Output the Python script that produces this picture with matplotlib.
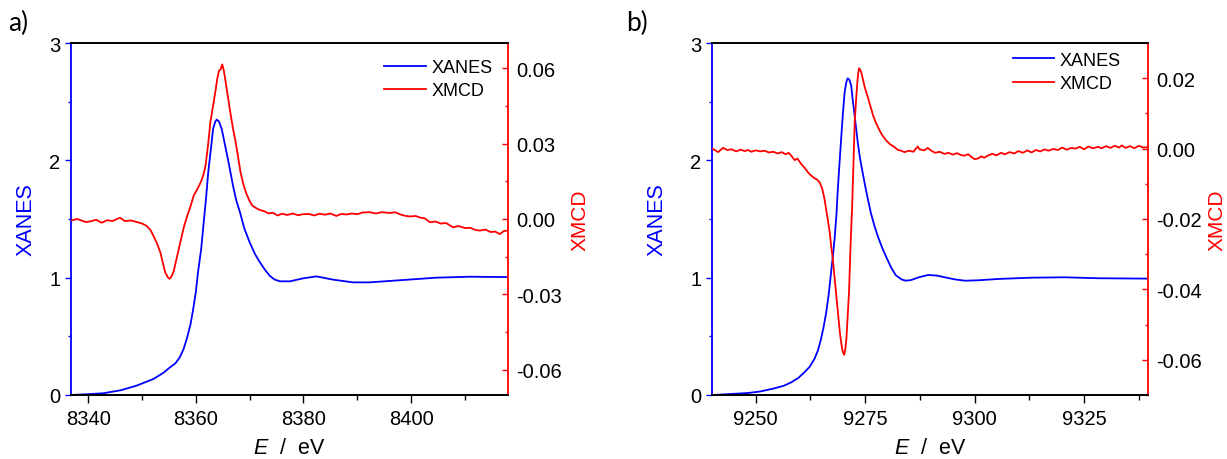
import matplotlib
matplotlib.use("Agg")
import matplotlib.pyplot as plt
from matplotlib.ticker import MultipleLocator, FormatStrFormatter

plt.rcParams['font.family'] = ['Liberation Sans', 'DejaVu Sans']
plt.rcParams['mathtext.fontset'] = 'custom'
plt.rcParams['mathtext.it'] = 'Liberation Sans:italic'
plt.rcParams['mathtext.rm'] = 'Liberation Sans'
plt.rcParams['axes.unicode_minus'] = False

# ---- panel a) data (read off the picture) ----
xanes_a_e = [8336.6, 8340, 8342.8, 8346, 8349.0, 8352.1, 8354, 8355.2, 8356.2, 8357.0,
             8357.7, 8358.3, 8359.0, 8359.5, 8360.0, 8360.4, 8361.0, 8361.4, 8361.9, 8362.3,
             8362.8, 8363.2, 8363.6, 8363.9, 8364.3, 8364.8, 8365.2, 8365.7, 8366.3, 8366.9,
             8367.5, 8368.2, 8369.0, 8370.0, 8371.0, 8371.9, 8372.8, 8373.7, 8374.6, 8375.6,
             8377.5, 8379.9, 8382.4, 8385.5, 8389.2, 8392.3, 8398.5, 8404.7, 8410.9, 8418]
xanes_a = [0.0, 0.007, 0.015, 0.04, 0.08, 0.136, 0.19, 0.236, 0.27, 0.32,
           0.39, 0.477, 0.6, 0.73, 0.88, 1.045, 1.25, 1.443, 1.68, 1.898,
           2.1, 2.267, 2.33, 2.347, 2.33, 2.267, 2.18, 2.068, 1.93, 1.784,
           1.66, 1.557, 1.42, 1.301, 1.2, 1.131, 1.07, 1.017, 0.985, 0.969,
           0.969, 0.994, 1.011, 0.983, 0.960, 0.960, 0.98, 1.0, 1.008, 1.005]

xmcd_a_e = [8336.6, 8338, 8339.5, 8340.3, 8341.5, 8342.5, 8343.5, 8344.5, 8345.9, 8346.8,
            8348, 8349.0, 8350, 8350.9, 8351.6, 8352.1, 8352.8, 8353.4, 8354.3, 8354.8,
            8355.1, 8355.5, 8355.9, 8356.5, 8357.1, 8357.8, 8358.4, 8359.0, 8359.6, 8360.3,
            8360.9, 8361.4, 8361.8, 8362.3, 8362.7, 8363.2, 8363.7, 8364.0, 8364.3, 8364.6,
            8364.9, 8365.2, 8365.5, 8366.0, 8366.4, 8366.9, 8367.4, 8367.9, 8368.3, 8368.8,
            8369.3, 8369.9, 8370.5, 8371.3, 8372, 8372.7, 8373.5, 8374.3, 8375.2, 8376,
            8377, 8378, 8379, 8379.9, 8381, 8382, 8383, 8384, 8385, 8386.1,
            8387, 8388, 8389, 8390, 8391, 8392.3, 8393.5, 8394.5, 8396.1, 8397,
            8398, 8399, 8399.8, 8400.8, 8401.8, 8402.6, 8403.5, 8404.5, 8405.5, 8406.5,
            8407.8, 8408.8, 8410, 8411, 8412, 8412.8, 8413.8, 8414.8, 8415.6, 8416.5,
            8417.2, 8418]
xmcd_a = [-0.0007, 0.0000, -0.0012, -0.0010, -0.0003, -0.0015, -0.0005, -0.0008, 0.0005, -0.0008,
          -0.0006, -0.0012, -0.0018, -0.0028, -0.0045, -0.0066, -0.0098, -0.0133, -0.0212, -0.0232,
          -0.0238, -0.0228, -0.0206, -0.0150, -0.0093, -0.0030, 0.0013, 0.0050, 0.0093, 0.0120,
          0.0146, 0.0175, 0.0212, 0.0300, 0.0385, 0.0450, 0.0517, 0.0560, 0.0590, 0.0595,
          0.0615, 0.0590, 0.0550, 0.0480, 0.0424, 0.0360, 0.0305, 0.0240, 0.0186, 0.0140,
          0.0106, 0.0075, 0.0053, 0.0042, 0.0035, 0.0031, 0.0022, 0.0025, 0.0014, 0.0021,
          0.0016, 0.0022, 0.0015, 0.0019, 0.0020, 0.0014, 0.0021, 0.0017, 0.0022, 0.0012,
          0.0020, 0.0018, 0.0022, 0.0019, 0.0026, 0.0027, 0.0022, 0.0027, 0.0024, 0.0027,
          0.0018, 0.0012, 0.0010, 0.0012, 0.0005, 0.0002, -0.0013, -0.0010, -0.0018, -0.0016,
          -0.0033, -0.0028, -0.0036, -0.0035, -0.0044, -0.0046, -0.0042, -0.0052, -0.0050, -0.0060,
          -0.0048, -0.0046]

# ---- panel b) data ----
xanes_b_e = [9240.2, 9244, 9248.2, 9251, 9254.3, 9256.5, 9258.1, 9259.7, 9261.1, 9262.3,
             9263.4, 9264.2, 9264.9, 9265.5, 9266.1, 9266.7, 9267.2, 9267.6, 9268.0, 9268.4,
             9268.7, 9269.1, 9269.5, 9269.9, 9270.3, 9270.7, 9271.0, 9271.4, 9271.8, 9272.1,
             9272.5, 9272.9, 9273.3, 9273.8, 9274.4, 9275.0, 9275.6, 9276.3, 9277.1, 9278.0,
             9279.0, 9280.0, 9280.9, 9282, 9283.3, 9284.3, 9285.5, 9287.4, 9289.4, 9291.3,
             9293.2, 9295.5, 9297.8, 9301, 9305.4, 9313.0, 9320.6, 9328.3, 9339.3]
xanes_b = [0.0, 0.008, 0.017, 0.03, 0.057, 0.08, 0.108, 0.145, 0.193, 0.24,
           0.307, 0.38, 0.477, 0.58, 0.705, 0.87, 1.045, 1.18, 1.33, 1.52,
           1.727, 1.96, 2.182, 2.4, 2.58, 2.67, 2.699, 2.685, 2.636, 2.53,
           2.409, 2.28, 2.153, 2.02, 1.898, 1.78, 1.67, 1.55, 1.443, 1.34,
           1.244, 1.16, 1.088, 1.02, 0.985, 0.974, 0.98, 1.005, 1.023, 1.018,
           1.003, 0.985, 0.974, 0.978, 0.989, 1.0, 1.003, 0.995, 0.992]

xmcd_b_e = [9240.2, 9241.4, 9242.5, 9243.5, 9244.5, 9245.5, 9246.5, 9247.5, 9248.2, 9249,
            9250, 9251, 9252.0, 9253, 9254, 9255, 9255.9, 9256.8, 9257.5, 9258.1,
            9258.9, 9259.5, 9260.4, 9261.2, 9261.9, 9262.6, 9263.4, 9264.0, 9264.6, 9265.2,
            9265.7, 9266.3, 9266.9, 9267.2, 9267.6, 9268.0, 9268.4, 9268.8, 9269.2, 9269.5,
            9269.8, 9270.2, 9270.5, 9270.7, 9271.0, 9271.3, 9271.5, 9271.7, 9272.0, 9272.2,
            9272.4, 9272.6, 9272.9, 9273.2, 9273.4, 9273.6, 9273.8, 9274.1, 9274.5, 9274.9,
            9275.2, 9275.6, 9276.2, 9276.8, 9277.5, 9278.3, 9279.0, 9279.8, 9280.7, 9281.7,
            9282.5, 9283.2, 9284.0, 9285, 9286, 9287.0, 9287.4, 9288.5, 9289.3, 9290.1,
            9291, 9292, 9293.1, 9294, 9295, 9296, 9297, 9297.7, 9298.5, 9299.3,
            9300.0, 9300.8, 9301.5, 9302.2, 9303.0, 9304, 9305, 9306, 9306.9, 9308,
            9309, 9310, 9311, 9312, 9313.0, 9314, 9315, 9316, 9316.8, 9318,
            9319, 9320, 9321, 9322.1, 9323, 9324, 9325, 9326, 9327, 9328.2,
            9329, 9330, 9331, 9332, 9333, 9333.6, 9334.5, 9335.5, 9336.5, 9337.5,
            9338.5, 9339.3]
xmcd_b = [-0.0001, -0.0010, 0.0002, -0.0004, -0.0002, -0.0008, -0.0003, -0.0007, -0.0004, -0.0009,
          -0.0005, -0.0008, -0.0006, -0.0011, -0.0009, -0.0014, -0.0010, -0.0016, -0.0012, -0.0020,
          -0.0033, -0.0028, -0.0044, -0.0055, -0.0067, -0.0076, -0.0084, -0.0088, -0.0096, -0.0115,
          -0.0143, -0.0190, -0.0238, -0.0275, -0.0314, -0.0365, -0.0418, -0.0470, -0.0522, -0.0550,
          -0.0574, -0.0586, -0.0565, -0.0541, -0.0475, -0.0408, -0.0330, -0.0257, -0.0170, -0.0086,
          -0.0005, 0.0075, 0.0135, 0.0188, 0.0215, 0.0228, 0.0225, 0.0217, 0.0195, 0.0174,
          0.0162, 0.0146, 0.0120, 0.0094, 0.0072, 0.0051, 0.0036, 0.0023, 0.0012, 0.0004,
          -0.0004, -0.0006, -0.0010, -0.0006, -0.0009, 0.0006, -0.0002, -0.0005, 0.0002, -0.0006,
          -0.0012, -0.0009, -0.0015, -0.0012, -0.0017, -0.0013, -0.0019, -0.0020, -0.0016, -0.0024,
          -0.0030, -0.0028, -0.0022, -0.0026, -0.0020, -0.0015, -0.0019, -0.0012, -0.0016, -0.0010,
          -0.0014, -0.0007, -0.0012, -0.0005, -0.0011, -0.0004, -0.0008, -0.0002, -0.0006, -0.0001,
          -0.0004, 0.0003, -0.0003, 0.0002, 0.0000, 0.0005, -0.0002, 0.0006, 0.0001, 0.0005,
          0.0001, 0.0007, 0.0002, 0.0008, 0.0003, 0.0009, 0.0002, 0.0007, 0.0001, 0.0008,
          0.0003, 0.0004]


def draw_panel(fig, rect, e1, y1, e2, y2, xlim, xmajor, xmcd_lim, xmcd_major,
               panel_label, label_x, xanes_lab_x, xmcd_lab_x, legend_anchor):
    ax = fig.add_axes(rect)
    ax2 = ax.twinx()

    l1, = ax.plot(e1, y1, color='#0000ff', lw=1.3, label='XANES')
    l2, = ax2.plot(e2, y2, color='#ff0000', lw=1.3, label='XMCD')

    ax.set_xlim(*xlim)
    ax.set_ylim(0, 3)
    ax2.set_ylim(*xmcd_lim)

    ax.xaxis.set_major_locator(MultipleLocator(xmajor))
    ax.xaxis.set_minor_locator(MultipleLocator(xmajor / 2))
    ax.yaxis.set_major_locator(MultipleLocator(1))
    ax.yaxis.set_minor_locator(MultipleLocator(0.5))
    ax2.yaxis.set_major_locator(MultipleLocator(xmcd_major))
    ax2.yaxis.set_minor_locator(MultipleLocator(xmcd_major / 2))
    ax2.yaxis.set_major_formatter(FormatStrFormatter('%.2f'))

    # spines
    ax.spines['left'].set_color('#0000ff')
    ax.spines['right'].set_visible(False)
    ax2.spines['left'].set_visible(False)
    ax2.spines['right'].set_color('#ff0000')
    ax2.spines['top'].set_color('black')
    ax2.spines['bottom'].set_color('black')
    for s in ax.spines.values():
        s.set_linewidth(1.3)
    for s in ax2.spines.values():
        s.set_linewidth(1.3)

    ax.tick_params(axis='x', which='major', direction='out', length=6, width=1,
                   labelsize=14.5, pad=4)
    ax.tick_params(axis='x', which='minor', direction='out', length=3.5, width=1)
    ax.tick_params(axis='y', which='major', direction='out', length=4.5, width=1,
                   color='#0000ff', labelsize=14.5, pad=3)
    ax.tick_params(axis='y', which='minor', direction='out', length=2.5, width=1,
                   color='#0000ff')
    ax2.tick_params(axis='y', which='major', direction='in', length=4.5, width=1,
                    color='#ff0000', labelsize=14.5, pad=6)
    ax2.tick_params(axis='y', which='minor', direction='in', length=2.5, width=1,
                    color='#ff0000')

    ax.set_xlabel(r'$E$  /  eV', fontsize=15.5)
    ax.xaxis.set_label_coords(0.5, -0.118)
    ax.set_ylabel('XANES', color='#0000ff', fontsize=15.5)
    ax.yaxis.set_label_coords(xanes_lab_x, 0.5)
    ax2.set_ylabel('XMCD', color='#ff0000', fontsize=15, rotation=90)
    ax2.yaxis.set_label_coords(xmcd_lab_x, 0.5)

    ax2.legend(handles=[l1, l2], loc='upper right', bbox_to_anchor=legend_anchor,
               frameon=False, fontsize=13, handlelength=2.3, handletextpad=0.3,
               labelspacing=0.35, borderaxespad=0)

    fig.text(label_x, 0.95, panel_label, fontsize=19, family=['Lato', 'DejaVu Sans'],
             va='center', ha='left')
    return ax, ax2


fig = plt.figure(figsize=(12.27, 4.6), dpi=100)

draw_panel(fig, [71 / 1227, 64 / 460, 437 / 1227, 352 / 460],
           xanes_a_e, xanes_a, xmcd_a_e, xmcd_a,
           (8336.8, 8418), 20, (-0.07, 0.07), 0.03,
           'a)', 8 / 1227, -0.08, 1.142, (0.981, 0.975))

draw_panel(fig, [712 / 1227, 64 / 460, 436 / 1227, 352 / 460],
           xanes_b_e, xanes_b, xmcd_b_e, xmcd_b,
           (9240, 9339.6), 25, (-0.07, 0.03), 0.02,
           'b)', 626 / 1227, -0.101, 1.136, (0.954, 0.996))

fig.savefig('out.png', dpi=100)
